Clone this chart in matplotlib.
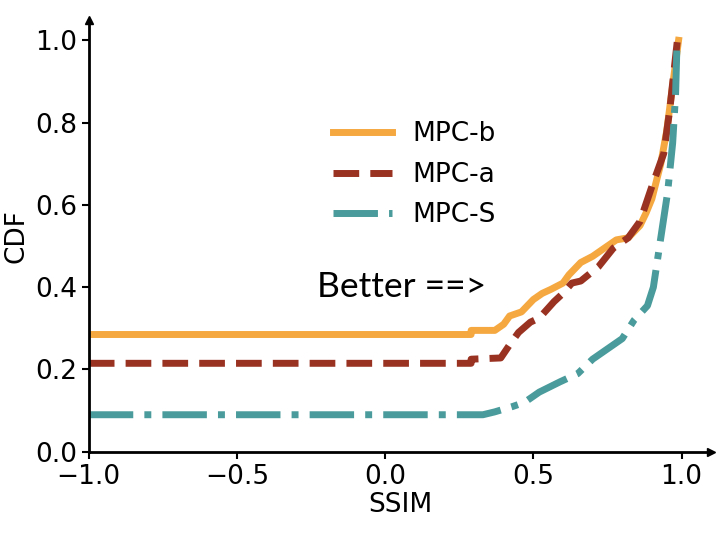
import matplotlib.pyplot as plt

# SSIM CDF curves
x_b = [-1.0, 0.29, 0.29, 0.37, 0.40, 0.42, 0.46, 0.50, 0.53, 0.56, 0.60, 0.62, 0.66,
       0.70, 0.75, 0.78, 0.82, 0.86, 0.88, 0.90, 0.93, 0.95, 0.97, 0.99]
y_b = [0.285, 0.285, 0.295, 0.295, 0.31, 0.33, 0.34, 0.37, 0.385, 0.395, 0.41, 0.43, 0.46,
       0.475, 0.50, 0.515, 0.52, 0.55, 0.58, 0.615, 0.70, 0.78, 0.89, 1.0]

x_a = [-1.0, 0.29, 0.29, 0.39, 0.42, 0.45, 0.49, 0.52, 0.57, 0.60, 0.63, 0.66, 0.72,
       0.77, 0.82, 0.86, 0.90, 0.94, 0.96, 0.986]
y_a = [0.215, 0.215, 0.225, 0.228, 0.26, 0.29, 0.315, 0.325, 0.365, 0.385, 0.41, 0.415, 0.45,
       0.495, 0.52, 0.56, 0.645, 0.725, 0.83, 1.0]

x_s = [-1.0, 0.33, 0.37, 0.43, 0.47, 0.52, 0.59, 0.65, 0.70, 0.75, 0.80, 0.84, 0.885,
       0.905, 0.93, 0.953, 0.97, 0.98, 0.985]
y_s = [0.09, 0.09, 0.097, 0.11, 0.12, 0.145, 0.17, 0.19, 0.225, 0.25, 0.275, 0.32, 0.355,
       0.40, 0.52, 0.63, 0.75, 0.87, 1.0]

fig = plt.figure(figsize=(7.22, 5.34), dpi=100)
ax = fig.add_axes([0.123, 0.154, 0.862, 0.809])

ax.plot(x_b, y_b, color="#F5A840", lw=5, ls="-", label="MPC-b")
ax.plot(x_a, y_a, color="#9A3222", lw=5, ls="--", label="MPC-a")
ax.plot(x_s, y_s, color="#4A9B9B", lw=5, ls="-.", label="MPC-S")

ax.set_xlim(-1.0, 1.1)
ax.set_ylim(0, 1.05)
ax.set_xticks([-1.0, -0.5, 0.0, 0.5, 1.0])
ax.set_yticks([0.0, 0.2, 0.4, 0.6, 0.8, 1.0])
ax.tick_params(labelsize=19, width=1.5, length=5)
ax.set_xlabel("SSIM", fontsize=19, labelpad=2)
ax.set_ylabel("CDF", fontsize=19)

for s in ["top", "right"]:
    ax.spines[s].set_visible(False)
for s in ["left", "bottom"]:
    ax.spines[s].set_linewidth(2)

# arrow heads on the axes
ax.plot(1, 0, ">k", ms=6, transform=ax.transAxes, clip_on=False)
ax.plot(0, 1, "^k", ms=6, transform=ax.transAxes, clip_on=False)

ax.text(-0.23, 0.375, "Better ==>", fontsize=25.5, family="Lato")

ax.legend(loc="upper left", bbox_to_anchor=(0.355, 0.82), frameon=False,
          fontsize=19, handlelength=2.2, labelspacing=0.55)

fig.savefig("out.png")
